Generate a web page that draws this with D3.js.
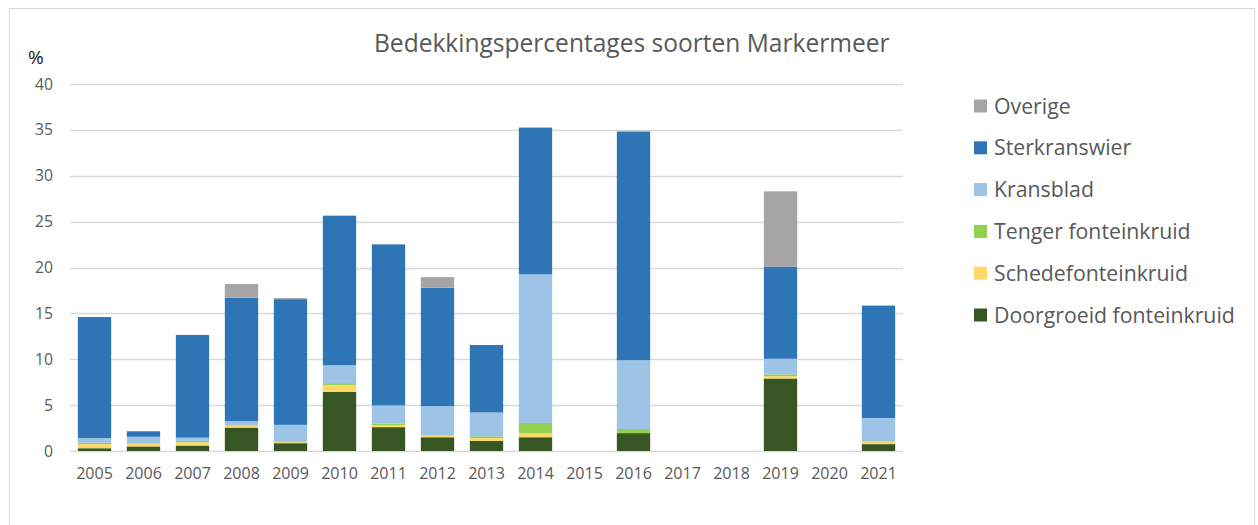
<!DOCTYPE html>
<html><head><meta charset="utf-8">
<script src="https://cdn.jsdelivr.net/npm/d3@7"></script>
<style>
html,body{margin:0;padding:0;background:#fff;}
svg{display:block;font-family:"Open Sans",Lato,sans-serif;}
</style></head>
<body><svg id="c" width="1258" height="525"></svg>
<script>
const years = ["2005","2006","2007","2008","2009","2010","2011","2012","2013","2014","2015","2016","2017","2018","2019","2020","2021"];
const seriesNames = ["Doorgroeid fonteinkruid","Schedefonteinkruid","Tenger fonteinkruid","Kransblad","Sterkranswier","Overige"];
const doorgroeid = [0.3,0.5,0.6,2.55,0.85,6.45,2.6,1.5,1.1,1.5,0,1.95,0,0,7.9,0,0.75];
const schede     = [0.45,0.3,0.35,0.2,0.1,0.75,0.22,0.15,0.3,0.45,0,0,0,0,0.25,0,0.25];
const tenger     = [0.15,0.05,0.15,0.05,0.05,0.2,0.15,0.05,0.2,1.1,0,0.45,0,0,0.2,0,0.05];
const kransblad  = [0.5,0.7,0.35,0.45,1.85,1.95,2.0,3.2,2.6,16.2,0,7.5,0,0,1.7,0,2.55];
const sterkrans  = [13.2,0.6,11.2,13.45,13.7,16.3,17.55,12.9,7.35,16.0,0,24.9,0,0,10.05,0,12.25];
const overige    = [0,0,0,1.5,0.12,0,0,1.15,0,0,0,0.1,0,0,8.2,0,0];
const yTicks = [0,5,10,15,20,25,30,35,40];
const colors = ["#375623","#FFD966","#92D050","#9DC3E6","#2E75B6","#A5A5A5"];

const seriesValues = [doorgroeid,schede,tenger,kransblad,sterkrans,overige];
const rows = years.map((y,i)=>{const r={year:y}; seriesNames.forEach((s,k)=>r[s]=seriesValues[k][i]); return r;});
const stack = d3.stack().keys(seriesNames)(rows);

const svg = d3.select("#c");
function fit(sel, target){
  let w = 0; sel.each(function(){ w = Math.max(w, this.getComputedTextLength()); });
  const fs = parseFloat(sel.attr("font-size"));
  if (w > 0) sel.attr("font-size", fs*target/w);
}

svg.append("rect").attr("x",9.5).attr("y",8.5).attr("width",1245).attr("height",530)
  .attr("fill","none").attr("stroke","#d9d9d9").attr("stroke-width",1);

const x = d3.scaleBand().domain(years).range([70,903]).paddingInner(0.32).paddingOuter(0.16);
const y = d3.scaleLinear().domain([0,40]).range([451,84]);

svg.append("g").selectAll("line").data(yTicks).join("line")
  .attr("x1",70).attr("x2",903).attr("y1",d=>Math.round(y(d))+0.5).attr("y2",d=>Math.round(y(d))+0.5)
  .attr("stroke","#d9d9d9").attr("stroke-width",1.3);

const ya = svg.append("g").attr("transform","translate(53,0)")
  .call(d3.axisLeft(y).tickValues(yTicks).tickSize(0).tickPadding(0));
ya.select(".domain").remove();
ya.selectAll("text").attr("font-family","'Open Sans',Lato,sans-serif").attr("font-size",15).attr("fill","#595959");
fit(ya.selectAll("text").filter(d=>d===40), 18);
ya.selectAll("text").attr("font-size", ya.selectAll("text").filter(d=>d===40).attr("font-size"));

const xa = svg.append("g").attr("transform","translate(0,468)")
  .call(d3.axisBottom(x).tickSize(0).tickPadding(0));
xa.select(".domain").remove();
xa.selectAll("text").attr("font-family","'Open Sans',Lato,sans-serif").attr("font-size",15).attr("fill","#595959");
fit(xa.selectAll("text"), 36.7);

svg.append("g").selectAll("g").data(stack).join("g").attr("fill",(d,i)=>colors[i])
  .selectAll("rect").data(d=>d).join("rect")
  .attr("x",d=>x(d.data.year)).attr("width",x.bandwidth())
  .attr("y",d=>y(d[1])).attr("height",d=>Math.max(0,y(d[0])-y(d[1])));

const title = svg.append("text").attr("x",374).attr("y",52)
  .attr("font-size",23).attr("fill","#595959").text("Bedekkingspercentages soorten Markermeer");
fit(title, 516);

svg.append("text").attr("x",28).attr("y",63.5).attr("font-size",19).attr("fill","#1a1a1a").text("%");

const legendOrder = seriesNames.map((s,i)=>({s,c:colors[i]})).reverse();
const lg = svg.append("g").selectAll("g").data(legendOrder).join("g")
  .attr("transform",(d,i)=>`translate(974,${106+i*41.8})`);
lg.append("rect").attr("x",0).attr("y",-6.5).attr("width",13).attr("height",13).attr("fill",d=>d.c);
const lt = lg.append("text").attr("x",20).attr("y",7.5).attr("font-size",20).attr("fill","#595959").text(d=>d.s);
fit(lt, 241);
</script></body></html>
